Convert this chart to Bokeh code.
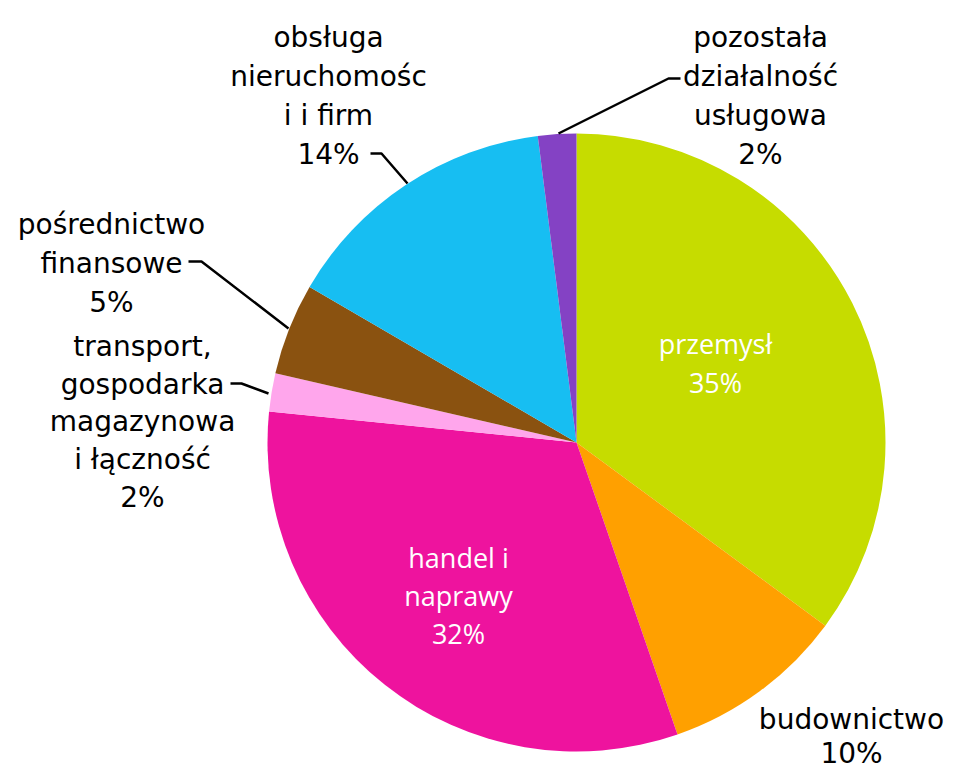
import numpy as np
from bokeh.plotting import figure
from bokeh.models import Range1d, ColumnDataSource
from bokeh.core.properties import value
from bokeh.embed import file_html
from bokeh.resources import INLINE

# ---- data (shares in %, clockwise from 12 o'clock) ----
categories = ["przemysł", "budownictwo", "handel i naprawy",
              "transport, gospodarka magazynowa i łączność",
              "pośrednictwo finansowe", "obsługa nieruchomości i firm",
              "pozostała działalność usługowa"]
shares = [35.1, 9.6, 31.9, 2.0, 4.8, 14.6, 2.0]
pct_labels = ["35%", "10%", "32%", "2%", "5%", "14%", "2%"]
label_lines = [
    ["przemysł", "35%"],
    ["budownictwo", "10%"],
    ["handel i", "naprawy", "32%"],
    ["transport,", "gospodarka", "magazynowa", "i łączność", "2%"],
    ["pośrednictwo", "finansowe", "5%"],
    ["obsługa", "nieruchomośc", "i i firm", "14%"],
    ["pozostała", "działalność", "usługowa", "2%"],
]
colors = ["#C6DC00", "#FFA000", "#EE139E", "#FFA6EC", "#8A5210", "#17BEF2", "#8442C4"]

# ---- layout (page pixel coordinates, y downward) ----
W, H = 954, 772
def Y(y):  # image y -> data y
    return H - y

cx, cy, R = 576, 442, 309

# label anchor: (center x, first baseline y, line step, font kind)
label_layout = [
    (715, 343, 39, "inner"),
    (851, 719, 34, "outer"),
    (458, 557, 38, "inner"),
    (142, 346, 37.7, "outer"),
    (111, 224, 39, "outer"),
    (328, 37, 39, "outer"),
    (760, 37, 39, "outer"),
]
leaders = {
    3: [(230, 383), (241, 383), (268, 393)],
    4: [(188, 261), (201, 261), (288, 328)],
    5: [(370, 153), (381, 153), (407, 183)],
    6: [(680, 78), (668, 78), (558, 133)],
}

p = figure(width=W, height=H, output_backend="svg", toolbar_location=None,
           x_range=Range1d(0, W), y_range=Range1d(0, H),
           min_border=0)
p.axis.visible = False
p.grid.visible = False
p.outline_line_color = None
p.background_fill_color = "white"

frac = np.array(shares) / sum(shares)
cum = np.concatenate([[0], np.cumsum(frac)])
start = np.pi / 2 - 2 * np.pi * cum[1:]
end = np.pi / 2 - 2 * np.pi * cum[:-1]
src = ColumnDataSource(dict(start=start, end=end, color=colors, cat=categories,
                            x=[cx] * len(shares), y=[Y(cy)] * len(shares)))
p.wedge(x="x", y="y", radius=R, start_angle="start", end_angle="end",
        direction="anticlock", fill_color="color", line_color=None, source=src)

for i, pts in leaders.items():
    p.line([a for a, b in pts], [Y(b) for a, b in pts], line_color="black", line_width=2.5)

for i, lines in enumerate(label_lines):
    x0, y0, step, kind = label_layout[i]
    ys = [Y(y0 + k * step) for k in range(len(lines))]
    if kind == "inner":
        p.text(x=[x0] * len(lines), y=ys, text=lines, text_align="center",
               text_baseline="alphabetic", text_font=value("Open Sans"),
               text_font_size="27px", text_color="white")
    else:
        p.text(x=[x0] * len(lines), y=ys, text=lines, text_align="center",
               text_baseline="alphabetic", text_font=value("DejaVu Sans"),
               text_font_size="28px", text_color="black")

open("out.html", "w").write(file_html(p, INLINE))
